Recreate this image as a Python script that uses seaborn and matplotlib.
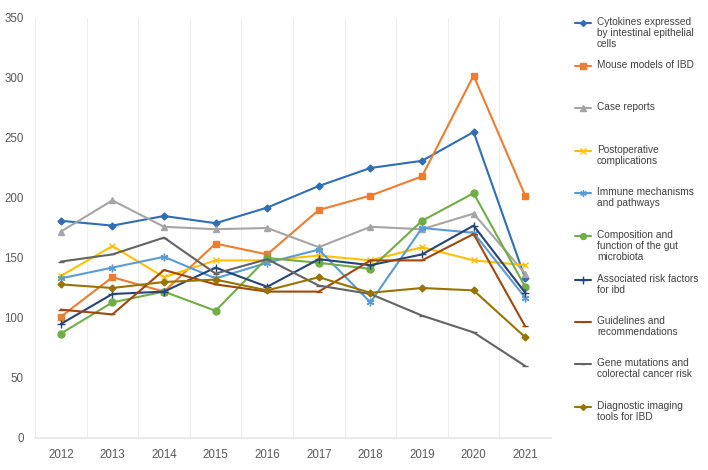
import numpy as np
import pandas as pd
import matplotlib
matplotlib.use("Agg")
import matplotlib.pyplot as plt
from matplotlib.lines import Line2D
import seaborn as sns

sns.set_theme(style="white")
plt.rcParams["font.family"] = ["Liberation Sans", "DejaVu Sans"]

years = [2012, 2013, 2014, 2015, 2016, 2017, 2018, 2019, 2020, 2021]

cytokines = [181, 177, 185, 179, 192, 210, 225, 231, 255, 133]
mouse_models = [101, 134, 122, 162, 153, 190, 202, 218, 302, 202]
case_reports = [172, 198, 176, 174, 175, 159, 176, 174, 187, 137]
postoperative = [135, 160, 134, 148, 148, 152, 148, 159, 148, 144]
immune = [133, 142, 151, 133, 146, 157, 113, 175, 171, 117]
microbiota = [87, 113, 122, 106, 150, 146, 141, 181, 204, 126]
risk_factors = [95, 120, 122, 142, 126, 149, 144, 153, 177, 121]
guidelines = [107, 103, 140, 128, 122, 122, 148, 148, 170, 93]
gene_mutations = [147, 153, 167, 137, 149, 127, 120, 102, 88, 60]
imaging = [128, 125, 130, 132, 123, 134, 121, 125, 123, 84]

labels = [
    "Cytokines expressed\nby intestinal epithelial\ncells",
    "Mouse models of IBD",
    "Case reports",
    "Postoperative\ncomplications",
    "Immune mechanisms\nand pathways",
    "Composition and\nfunction of the gut\nmicrobiota",
    "Associated risk factors\nfor ibd",
    "Guidelines and\nrecommendations",
    "Gene mutations and\ncolorectal cancer risk",
    "Diagnostic imaging\ntools for IBD",
]
series = [cytokines, mouse_models, case_reports, postoperative, immune,
          microbiota, risk_factors, guidelines, gene_mutations, imaging]

colors = ["#2F6DB5", "#ED7D31", "#A5A5A5", "#FFC000", "#5B9BD5",
          "#70AD47", "#264478", "#9E480E", "#636363", "#997300"]
markers = ["D", "s", "^", "x", (6, 2, 0), "o", "+", "_", "_", "D"]
msizes = [3.5, 4.8, 4.5, 5, 5.5, 5, 6, 4, 4, 3.5]

fig = plt.figure(figsize=(7.08, 4.70), dpi=100)
ax = fig.add_axes([35 / 708, 32 / 470, 516 / 708, 420 / 470])

for vals, col, mk, ms in zip(series, colors, markers, msizes):
    sns.lineplot(x=years, y=vals, color=col, marker=mk, markersize=ms,
                 markeredgecolor=col, markeredgewidth=1.0, linewidth=1.5, ax=ax)

ax.set_xlim(2011.5, 2021.5)
ax.set_ylim(0, 350)
ax.set_xticks(years)
ax.set_yticks(range(0, 351, 50))
ax.set_xticks(np.arange(2011.5, 2022, 1), minor=True)
ax.grid(which="minor", axis="x", color="#eeeeee", linewidth=0.8)
ax.grid(which="major", axis="both", visible=False)
ax.tick_params(axis="both", which="both", length=0, labelsize=8.3,
               colors="#595959", pad=8)
for side in ["top", "right", "left"]:
    ax.spines[side].set_visible(False)
ax.spines["bottom"].set_color("#e6e6e6")

# legend drawn entry by entry so each handle sits on the first text line
hy = [23, 66, 108, 151, 193, 236, 280, 322, 364, 407]
for lab, col, mk, ms, py in zip(labels, colors, markers, msizes, hy):
    yf = 1 - py / 470
    fig.add_artist(Line2D([575 / 708, 591 / 708], [yf, yf], color=col,
                          linewidth=1.5, transform=fig.transFigure))
    fig.add_artist(Line2D([583 / 708], [yf], color=col, marker=mk,
                          markersize=ms * 0.85, markeredgecolor=col,
                          transform=fig.transFigure))
    fig.text(597 / 708, 1 - (py - 6) / 470, lab, fontsize=7.3, color="#404040",
             va="top", ha="left", linespacing=1.15)

fig.savefig("out.png", dpi=100)
